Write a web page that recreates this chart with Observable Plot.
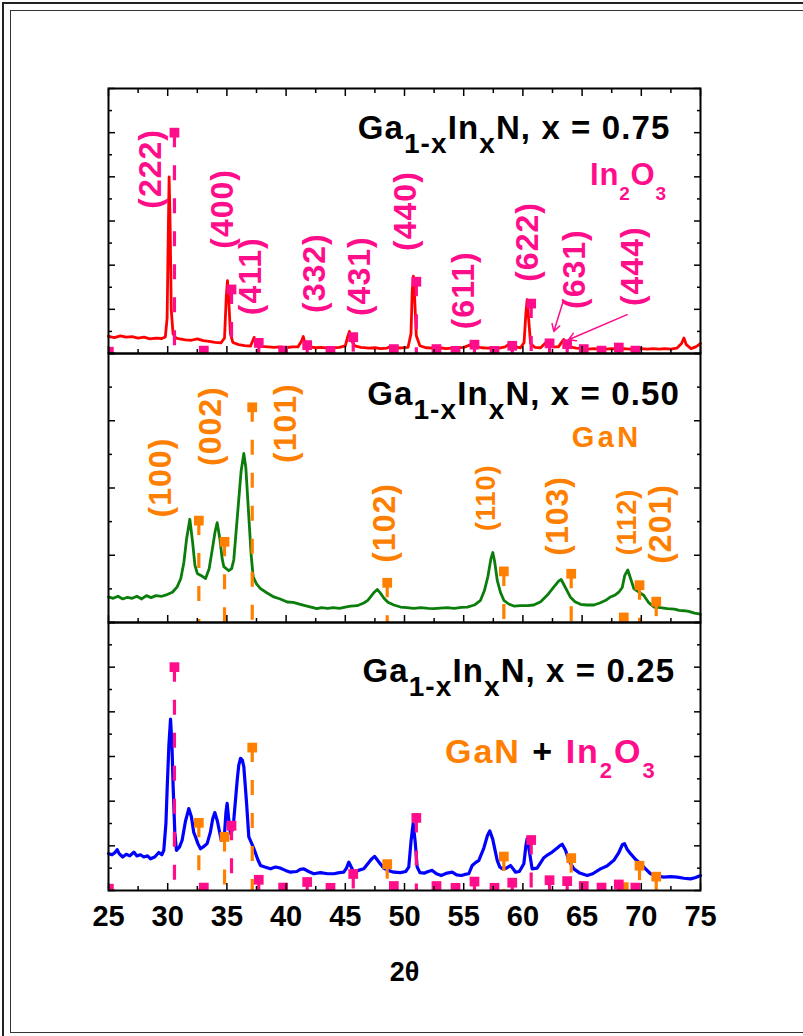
<!DOCTYPE html>
<html><head><meta charset="utf-8">
<script src="https://cdn.jsdelivr.net/npm/d3@7"></script>
<script src="https://cdn.jsdelivr.net/npm/@observablehq/plot@0.6"></script>
<style>
body{margin:0;background:#fff;}
#wrap{position:relative;width:803px;height:1036px;overflow:hidden;background:#fff;}
.b1{position:absolute;left:2px;top:2px;width:900px;height:1100px;border:2px solid #222;}
.b2{position:absolute;left:10px;top:10px;width:900px;height:1021px;border:1.5px solid #333;}
.panel{position:absolute;left:0;}
</style></head><body>
<div id="wrap"><div class="b1"></div><div class="b2"></div></div>
<script>
// ---------------- data ----------------
const compositions = ["0.75", "0.50", "0.25"];
const xTicksMajor = [25, 30, 35, 40, 45, 50, 55, 60, 65, 70, 75];
const xTicksMinor = [27.5, 32.5, 37.5, 42.5, 47.5, 52.5, 57.5, 62.5, 67.5, 72.5];
const xLabel = "2θ";

// x = 0.75 pattern (red)
const pattern075 = [[25.0,0.78],[25.5,0.72],[26.0,0.8],[26.5,0.74],[27.0,0.76],[27.5,0.7],[28.0,0.74],[28.5,0.66],[29.0,0.7],[29.5,0.68],[29.8,0.75],[29.95,1.6],[30.05,5.5],[30.12,8.0],[30.2,6.0],[30.3,2.0],[30.45,0.9],[30.7,0.7],[31.0,0.66],[31.5,0.62],[32.0,0.6],[32.5,0.66],[33.0,0.58],[33.5,0.55],[34.0,0.5],[34.5,0.48],[34.8,0.7],[34.95,2.6],[35.05,3.3],[35.15,2.5],[35.3,0.9],[35.5,0.5],[36.0,0.4],[36.5,0.36],[37.0,0.34],[37.2,0.6],[37.3,0.73],[37.45,0.45],[37.8,0.32],[38.5,0.3],[39.0,0.28],[39.5,0.3],[40.0,0.26],[40.5,0.3],[41.0,0.3],[41.3,0.55],[41.45,0.77],[41.6,0.45],[42.0,0.3],[42.5,0.26],[43.0,0.28],[43.5,0.24],[44.0,0.26],[44.5,0.28],[45.0,0.35],[45.2,0.75],[45.35,1.0],[45.5,0.6],[45.8,0.35],[46.3,0.28],[47.0,0.24],[47.5,0.26],[48.0,0.22],[48.5,0.24],[48.8,0.32],[49.2,0.26],[49.7,0.25],[50.3,0.28],[50.55,0.9],[50.65,2.8],[50.75,3.5],[50.85,2.6],[51.0,0.8],[51.3,0.35],[51.8,0.26],[52.5,0.24],[53.0,0.26],[53.5,0.22],[54.0,0.24],[54.5,0.26],[55.0,0.28],[55.5,0.38],[55.7,0.47],[55.9,0.35],[56.5,0.26],[57.0,0.24],[57.5,0.26],[58.0,0.24],[58.5,0.3],[58.95,0.47],[59.3,0.3],[59.8,0.26],[60.1,0.5],[60.25,1.8],[60.36,2.44],[60.48,1.6],[60.65,0.45],[61.0,0.28],[61.5,0.26],[62.05,0.55],[62.5,0.3],[63.0,0.3],[63.45,0.64],[63.8,0.32],[64.5,0.24],[65.0,0.22],[65.5,0.2],[66.0,0.22],[66.5,0.2],[67.0,0.2],[67.5,0.22],[68.0,0.2],[68.5,0.22],[69.0,0.2],[69.5,0.2],[70.0,0.22],[70.5,0.2],[71.0,0.22],[71.5,0.2],[72.0,0.22],[72.5,0.2],[73.0,0.24],[73.4,0.45],[73.6,0.7],[73.8,0.4],[74.2,0.22],[74.6,0.3],[75.0,0.45]];

// x = 0.50 pattern (green)
const pattern050 = [[25.0,0.76],[25.4,0.72],[25.8,0.78],[26.2,0.7],[26.6,0.75],[27.0,0.72],[27.4,0.78],[27.8,0.7],[28.2,0.8],[28.6,0.74],[29.0,0.8],[29.5,0.78],[29.95,0.83],[30.4,0.9],[30.8,1.06],[31.1,1.3],[31.36,1.77],[31.6,2.5],[31.87,3.07],[32.1,2.4],[32.3,1.7],[32.5,1.46],[32.8,1.4],[33.2,1.31],[33.5,1.6],[33.76,2.16],[34.0,2.7],[34.18,2.97],[34.4,2.5],[34.6,1.9],[34.74,1.66],[35.16,1.54],[35.4,1.6],[35.58,1.86],[35.8,2.8],[36.0,3.65],[36.2,4.5],[36.43,5.03],[36.6,4.6],[36.85,3.15],[37.05,2.0],[37.22,1.36],[37.5,1.15],[37.84,1.01],[38.3,0.9],[38.96,0.76],[39.5,0.7],[40.1,0.61],[40.6,0.6],[41.2,0.54],[41.6,0.5],[42.1,0.46],[42.6,0.41],[43.0,0.44],[43.5,0.42],[44.0,0.44],[44.5,0.42],[45.0,0.46],[45.44,0.49],[46.0,0.5],[46.56,0.58],[46.9,0.66],[47.13,0.76],[47.45,0.9],[47.7,0.98],[47.95,0.88],[48.25,0.73],[48.6,0.6],[49.1,0.52],[49.66,0.46],[50.2,0.44],[50.8,0.42],[51.4,0.44],[52.0,0.42],[52.47,0.41],[53.0,0.43],[53.6,0.44],[54.2,0.42],[54.8,0.45],[55.3,0.46],[55.9,0.52],[56.42,0.66],[56.75,0.95],[57.04,1.36],[57.3,1.9],[57.46,2.08],[57.62,1.8],[57.83,1.26],[58.1,0.9],[58.39,0.66],[58.8,0.55],[59.23,0.49],[59.8,0.5],[60.4,0.5],[60.92,0.52],[61.5,0.62],[62.05,0.81],[62.6,1.05],[63.0,1.22],[63.23,1.28],[63.5,1.1],[64.0,0.76],[64.4,0.62],[64.86,0.54],[65.4,0.52],[65.99,0.52],[66.5,0.58],[67.0,0.66],[67.4,0.76],[67.8,0.82],[68.1,0.9],[68.39,1.04],[68.6,1.4],[68.86,1.56],[69.1,1.3],[69.37,1.01],[69.8,0.9],[70.2,0.81],[70.6,0.6],[71.06,0.46],[71.6,0.44],[72.2,0.41],[72.8,0.4],[73.2,0.36],[73.6,0.35],[74.0,0.33],[74.5,0.28],[75.0,0.25]];

// x = 0.25 pattern (blue)
const pattern025 = [[25.0,1.65],[25.3,1.6],[25.55,1.7],[25.73,1.83],[25.9,1.65],[26.2,1.5],[26.5,1.62],[26.8,1.55],[27.14,1.72],[27.4,1.55],[27.7,1.6],[27.98,1.5],[28.3,1.55],[28.55,1.42],[28.9,1.5],[29.25,1.7],[29.5,1.6],[29.67,1.8],[29.85,3.0],[29.96,4.64],[30.1,6.5],[30.24,7.67],[30.36,6.5],[30.46,4.64],[30.6,2.6],[30.74,1.8],[31.0,1.95],[31.22,2.25],[31.5,3.1],[31.78,3.67],[32.0,3.3],[32.2,2.6],[32.35,2.4],[32.55,2.1],[32.77,1.87],[33.0,1.95],[33.33,2.1],[33.6,2.6],[33.8,3.2],[33.98,3.49],[34.2,3.1],[34.52,2.25],[34.8,2.55],[34.92,3.5],[35.02,3.9],[35.15,3.2],[35.3,2.55],[35.45,2.7],[35.58,3.15],[35.87,4.94],[36.0,5.6],[36.15,5.92],[36.3,5.85],[36.43,5.54],[36.65,4.0],[36.85,2.4],[37.1,2.1],[37.33,1.8],[37.6,1.4],[37.84,1.12],[38.2,1.05],[38.68,0.97],[39.1,1.05],[39.53,1.0],[39.95,0.9],[40.37,0.82],[40.9,0.85],[41.2,0.95],[41.5,0.97],[41.9,0.85],[42.34,0.75],[42.9,0.8],[43.5,0.75],[44.03,0.75],[44.5,0.8],[44.87,0.82],[45.1,1.0],[45.3,1.27],[45.5,1.05],[45.72,0.82],[46.1,0.9],[46.56,0.97],[46.9,1.2],[47.2,1.4],[47.47,1.53],[47.8,1.3],[48.25,1.0],[48.6,0.9],[49.1,0.82],[49.66,0.8],[50.1,0.85],[50.36,1.05],[50.55,2.2],[50.73,3.0],[50.9,2.2],[51.07,1.05],[51.3,0.8],[51.7,0.78],[52.0,0.85],[52.34,0.9],[52.7,0.75],[53.1,0.67],[53.6,0.78],[54.03,0.82],[54.4,0.7],[54.8,0.67],[55.1,0.72],[55.43,0.75],[55.72,1.12],[56.0,1.25],[56.28,1.35],[56.7,1.9],[57.0,2.45],[57.2,2.67],[57.45,2.3],[57.83,1.35],[58.05,1.05],[58.25,0.97],[58.6,1.0],[58.95,1.12],[59.2,0.95],[59.38,0.82],[59.7,0.85],[60.08,1.2],[60.25,2.0],[60.36,2.32],[60.5,1.9],[60.78,0.97],[61.2,1.0],[61.5,1.25],[61.77,1.47],[62.1,1.6],[62.47,1.72],[62.9,1.9],[63.1,2.0],[63.32,2.07],[63.6,1.8],[63.88,1.35],[64.3,0.97],[64.8,0.78],[65.43,0.67],[65.9,0.75],[66.55,0.97],[67.1,1.1],[67.68,1.35],[68.1,1.7],[68.4,2.05],[68.58,2.1],[68.8,1.85],[69.09,1.65],[69.5,1.4],[69.93,1.2],[70.4,0.95],[70.78,0.75],[71.3,0.65],[71.9,0.6],[72.5,0.62],[73.03,0.6],[73.6,0.55],[74.16,0.52],[74.6,0.58],[75.0,0.67]];

// reference patterns
const in2o3Angles = [25.03,30.57,33.05,35.39,37.69,39.75,41.78,43.75,45.67,49.1,51.0,52.7,54.31,55.91,57.6,59.1,60.7,62.25,63.74,65.14,66.64,68.1,69.5];
const in2o3Heights = [0.08,10.0,0.13,2.9,0.48,0.13,0.38,0.12,0.74,0.2,3.25,0.2,0.12,0.4,0.12,0.35,2.26,0.46,0.42,0.2,0.13,0.27,0.13];
const ganAngles = [32.63,34.8,37.14,48.54,58.39,64.08,68.52,69.85,71.26];
const ganHeights = [3.03,2.4,6.4,1.18,1.52,1.45,0.15,1.11,0.62];

// hkl labels
const in2o3Labels = ["(222)","(400)","(411)","(332)","(431)","(440)","(611)","(622)","(631)","(444)"];
const in2o3LabelX = [28.55,34.63,37.0,42.4,46.2,50.14,55.0,60.4,64.37,69.27];
const in2o3LabelY = [8.36,6.55,3.5,3.64,3.5,6.45,2.86,5.05,3.82,3.95];
const ganLabels = ["(100)","(002)","(101)","(102)","(110)","(103)","(112)","(201)"];
const ganLabelX = [29.39,33.61,39.95,48.31,56.93,62.92,68.83,71.62];
const ganLabelY = [4.31,5.84,5.93,2.96,3.71,3.17,2.99,2.93];
const ganLabelSize = [32,32,32,32,27,32,27,32];

// pointer arrows in the top panel: [x1, y1, x2, y2]
const arrows075 = [[63.36,2.29,62.61,1.0],[68.8,1.76,63.85,0.62]];

// ---------------- drawing ----------------
const FONT = "'Liberation Sans', Arial, Helvetica, sans-serif";
const PINK = "#ff0d8a", ORANGE = "#ff8000";
const toPts = a => a.map(([t, v]) => ({t, v}));
const refs = (angles, heights) => angles.map((t, i) => ({t, v: heights[i]}));
const labs = (names, xs, ys, sizes) => names.map((n, i) => ({n, t: xs[i], v: ys[i], s: sizes ? sizes[i] : 32}));

function richText(parts, {x, y, anchor = "start", size, color = "black", spacing = 0}) {
  return (index, scales) => {
    const t = d3.create("svg:text")
      .attr("x", scales.x(x)).attr("y", scales.y(y))
      .attr("text-anchor", anchor)
      .attr("font-family", FONT).attr("font-weight", "bold")
      .attr("font-size", size).attr("fill", color)
      .style("letter-spacing", spacing + "px");
    let cur = 0;
    for (const p of parts) {
      const want = p.sub ? p.shift : 0;
      const ts = t.append("tspan").text(p.t).attr("dy", want - cur);
      cur = want;
      if (p.sub) ts.attr("font-size", p.size);
      if (p.fill) ts.attr("fill", p.fill);
    }
    return t.node();
  };
}
const titleParts = c => [{t: "Ga"}, {t: "1-x", sub: true, size: 28, shift: 14}, {t: "In"}, {t: "x", sub: true, size: 28, shift: 14}, {t: "N, x = " + c}];

function tickX(opts) { return Plot.axisTickX ? Plot.axisTickX({...opts, label: null}) : Plot.axisX({...opts, label: null, tickFormat: () => ""}); }
function tickY(opts) { return Plot.axisTickY ? Plot.axisTickY({...opts, label: null}) : Plot.axisY({...opts, label: null, tickFormat: () => ""}); }

function frameMarks(ymax, topTicks) {
  const yMaj = d3.range(0, ymax + 1, 2), yMin = d3.range(1, ymax, 2);
  const s = {stroke: "black", strokeWidth: 1.5};
  const m = [
    tickX({anchor: "bottom", ticks: xTicksMajor, tickSize: -7, ...s}),
    tickX({anchor: "bottom", ticks: xTicksMinor, tickSize: -4, ...s}),
    tickY({anchor: "left", ticks: yMaj, tickSize: -7, ...s}),
    tickY({anchor: "left", ticks: yMin, tickSize: -4, ...s}),
    tickY({anchor: "right", ticks: yMaj, tickSize: -7, ...s}),
    tickY({anchor: "right", ticks: yMin, tickSize: -4, ...s})
  ];
  if (topTicks) {
    m.push(tickX({anchor: "top", ticks: xTicksMajor, tickSize: -7, ...s}));
    m.push(tickX({anchor: "top", ticks: xTicksMinor, tickSize: -4, ...s}));
  }
  m.push(Plot.frame({stroke: "black", strokeWidth: 2}));
  return m;
}
function refMarks(data, color) {
  return [
    Plot.ruleX(data, {x: "t", y1: "v", y2: 0, stroke: color, strokeWidth: 3.2, strokeDasharray: "15,18", clip: true}),
    Plot.dot(data, {x: "t", y: "v", symbol: "square", r: 5.5, fill: color, clip: true})
  ];
}
function hklMarks(data, color) {
  return Plot.text(data, {x: "t", y: "v", text: "n", rotate: -90, fill: color, fontSize: d => d.s, fontWeight: "bold", fontFamily: FONT});
}

function panel({top, height, ymax, marks, marginBottom = 0}) {
  const p = Plot.plot({
    width: 803, height: height + marginBottom,
    marginLeft: 108, marginRight: 103, marginTop: 0, marginBottom,
    x: {domain: [25, 75], axis: null, label: null},
    y: {domain: [0, ymax], axis: null, label: null},
    style: {background: "none", overflow: "visible", fontFamily: FONT},
    marks
  });
  p.classList.add("panel");
  p.style.top = top + "px";
  p.style.position = "absolute";
  // widen the rotated Miller-index labels like the reference lettering
  p.querySelectorAll("text").forEach(t => {
    if (/^\(\d{3}\)$/.test(t.textContent)) t.setAttribute("letter-spacing", "1");
  });
  document.getElementById("wrap").appendChild(p);
}

const inRefs = refs(in2o3Angles, in2o3Heights);
const ganRefs = refs(ganAngles, ganHeights);

// top panel: x = 0.75
panel({top: 88, height: 265, ymax: 12, marks: [
  Plot.line(toPts(pattern075), {x: "t", y: "v", stroke: "#ff0000", strokeWidth: 2.8}),
  ...refMarks(inRefs, PINK),
  hklMarks(labs(in2o3Labels, in2o3LabelX, in2o3LabelY), PINK),
  Plot.arrow(arrows075, {x1: d => d[0], y1: d => d[1], x2: d => d[2], y2: d => d[3], stroke: PINK, strokeWidth: 1.5, headLength: 8}),
  richText(titleParts(compositions[0]), {x: 72.5, y: 9.68, anchor: "end", size: 33, spacing: 1.1}),
  richText([{t: "In"}, {t: "2", sub: true, size: 19, shift: 15}, {t: "O"}, {t: "3", sub: true, size: 19, shift: 15}], {x: 65.71, y: 7.6, size: 31, color: PINK, spacing: 0.8}),
  ...frameMarks(12, true)
]});

// middle panel: x = 0.50
panel({top: 353, height: 269, ymax: 8, marks: [
  Plot.line(toPts(pattern050), {x: "t", y: "v", stroke: "#0b7d0b", strokeWidth: 2.8}),
  ...refMarks(ganRefs, ORANGE),
  hklMarks(labs(ganLabels, ganLabelX, ganLabelY, ganLabelSize), ORANGE),
  richText(titleParts(compositions[1]), {x: 73.3, y: 6.44, anchor: "end", size: 33, spacing: 1.1}),
  richText([{t: "GaN"}], {x: 64.16, y: 5.2, size: 29, color: ORANGE, spacing: 3.5}),
  ...frameMarks(8, false)
]});

// bottom panel: x = 0.25
panel({top: 622, height: 268, ymax: 12, marginBottom: 146, marks: [
  Plot.line(toPts(pattern025), {x: "t", y: "v", stroke: "#0000ff", strokeWidth: 3.2}),
  ...refMarks(ganRefs, ORANGE),
  ...refMarks(inRefs, PINK),
  richText(titleParts(compositions[2]), {x: 72.9, y: 9.3, anchor: "end", size: 33, spacing: 1.1}),
  richText([{t: "GaN", fill: ORANGE}, {t: " + ", fill: "black"}, {t: "In", fill: PINK}, {t: "2", sub: true, size: 22, shift: 15, fill: PINK}, {t: "O", fill: PINK}, {t: "3", sub: true, size: 22, shift: 15, fill: PINK}], {x: 53.46, y: 5.69, size: 34, spacing: 2}),
  ...frameMarks(12, false),
  Plot.axisX({anchor: "bottom", ticks: xTicksMajor, tickSize: 0, tickPadding: 15, fontSize: 29, fontWeight: "bold", fontFamily: FONT, label: null}),
  Plot.text([xLabel], {text: d => d, frameAnchor: "bottom", dy: 90, fontSize: 27, fontWeight: "bold", fontFamily: FONT})
]});
</script>
</body></html>
